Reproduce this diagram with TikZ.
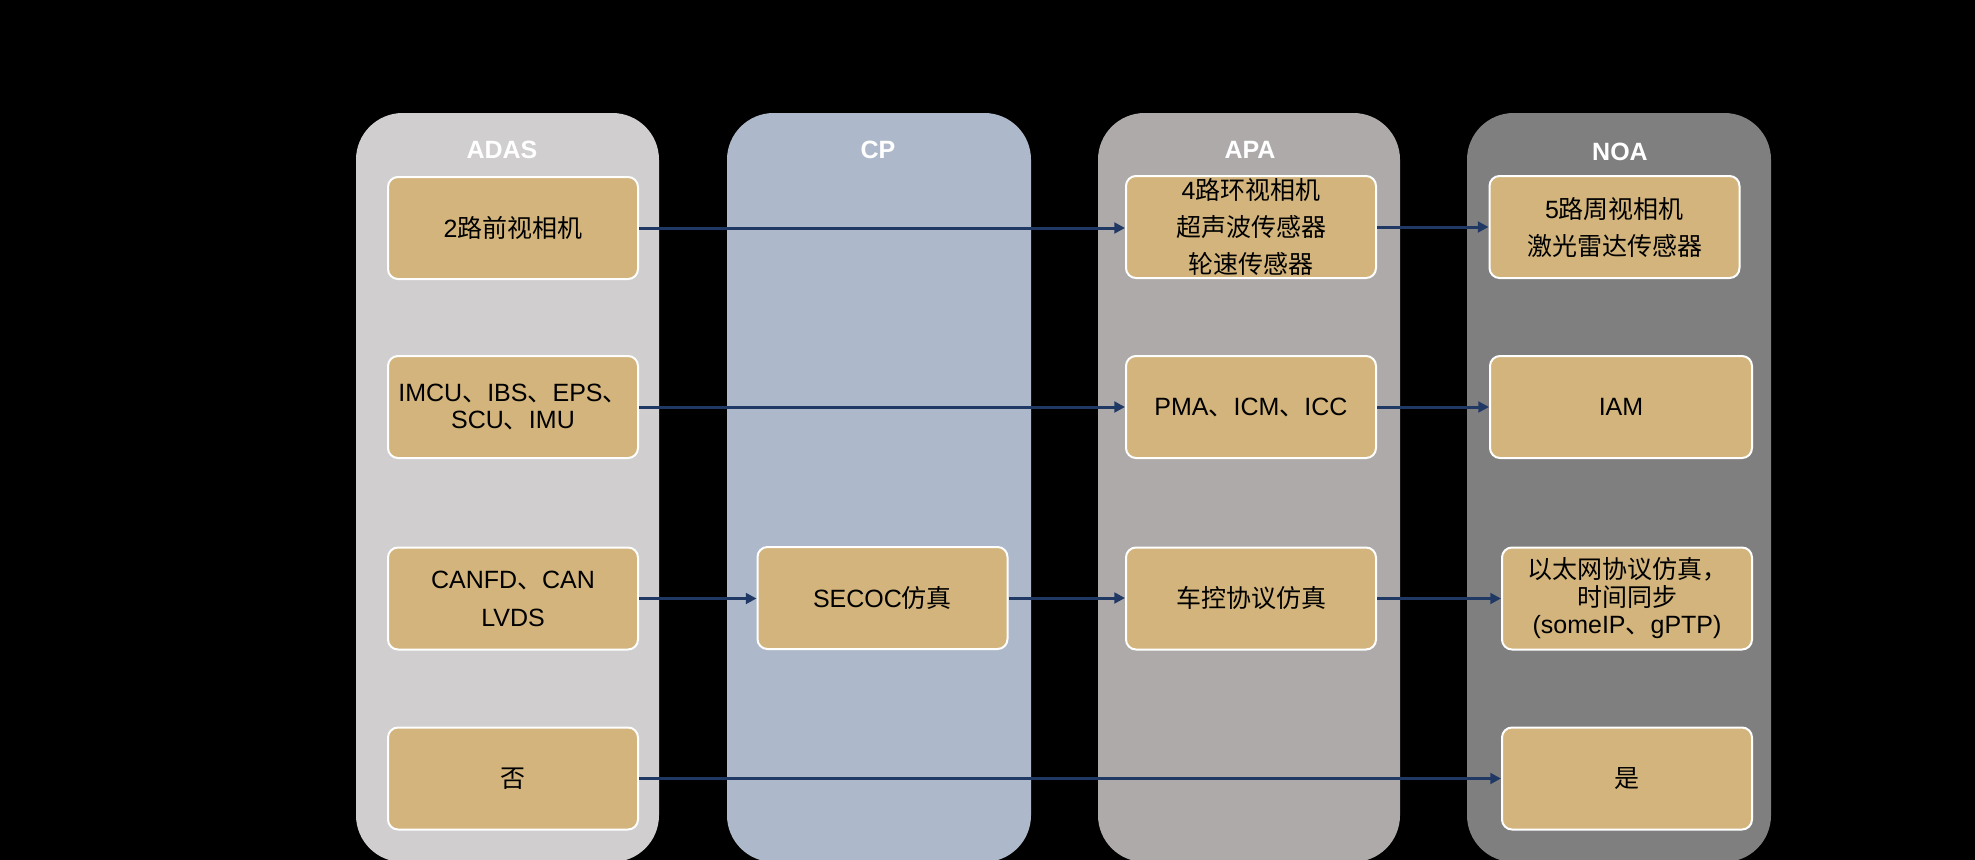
\documentclass[tikz,border=0pt]{standalone}
\usepackage{fontspec}
\setmainfont{Liberation Sans}
\newfontfamily\cjk{Noto Sans CJK SC}
\newcommand\zh[1]{{\cjk #1}}
\usetikzlibrary{arrows.meta}
\definecolor{colA}{HTML}{D0CECF}
\definecolor{colC}{HTML}{ADB9CA}
\definecolor{colP}{HTML}{AEAAAA}
\definecolor{colN}{HTML}{7F7F7F}
\definecolor{tan}{HTML}{D2B47C}
\definecolor{navy}{HTML}{203864}
\begin{document}
\begin{tikzpicture}[x=0.75pt,y=-0.75pt,
  lane/.style={rounded corners=35pt},
  hdr/.style={text=white,font=\bfseries\fontsize{18.75}{22}\selectfont,inner sep=0pt},
  bx/.style={draw=white,line width=1.5pt,fill=tan,rounded corners=7.5pt,
    minimum width=187.5pt,minimum height=76.5pt,align=center,inner sep=0pt,
    font=\fontsize{18.75}{#1}\selectfont},
  bx/.default=20,
  arr/.style={draw=navy,line width=2.25pt,-{Triangle[length=8pt,width=8pt]}}]
\fill[black] (0,0) rectangle (1975,860);
\useasboundingbox (0,0) rectangle (1975,860);
% lanes
\fill[colA,lane] (356,113) rectangle (659,862);
\fill[colC,lane] (727,113) rectangle (1031,862);
\fill[colP,lane] (1098,113) rectangle (1400,862);
\fill[colN,lane] (1467,113) rectangle (1771,862);
% headers
\node[hdr] (hA) at (502,150) {ADAS};
\node[hdr] (hC) at (878,150) {CP};
\node[hdr] (hP) at (1250,150) {APA};
\node[hdr] (hN) at (1620,152) {NOA};
% boxes
\node[bx] (A1) at (513,228) {2\zh{路前视相机}};
\node[bx=20] (A2) at (513,407) {IMCU\zh{、}IBS\zh{、}EPS\zh{、}\\SCU\zh{、}IMU};
\node[bx=28.5] (A3) at (513,598.5) {CANFD\zh{、}CAN\\LVDS};
\node[bx] (A4) at (513,778.5) {\zh{否}};
\node[bx] (C3) at (882.5,598) {SECOC\zh{仿真}};
\node[bx=27.4] (P1) at (1251,227) {4\zh{路环视相机}\\\zh{超声波传感器}\\\zh{轮速传感器}};
\node[bx] (P2) at (1251,407) {PMA\zh{、}ICM\zh{、}ICC};
\node[bx] (P3) at (1251,598.5) {\zh{车控协议仿真}};
\node[bx=27.75] (N1) at (1614.5,227) {5\zh{路周视相机}\\\zh{激光雷达传感器}};
\node[bx,minimum width=196.5pt] (N2) at (1621,407) {IAM};
\node[bx=20.6] (N3) at (1627,598.5) {\zh{以太网协议仿真，}\\\zh{时间同步}\\(someIP\zh{、}gPTP)};
\node[bx] (N4) at (1627,778.5) {\zh{是}};
% arrows
\draw[arr] (A1.east) -- (A1.east -| P1.west);
\draw[arr] (P1.east) -- (P1.east -| N1.west);
\draw[arr] (A2.east) -- (A2.east -| P2.west);
\draw[arr] (P2.east) -- (P2.east -| N2.west);
\draw[arr] (A3.east) -- (A3.east -| C3.west);
\draw[arr] (C3.east) -- (C3.east -| P3.west);
\draw[arr] (P3.east) -- (P3.east -| N3.west);
\draw[arr] (A4.east) -- (A4.east -| N4.west);
\end{tikzpicture}
\end{document}
